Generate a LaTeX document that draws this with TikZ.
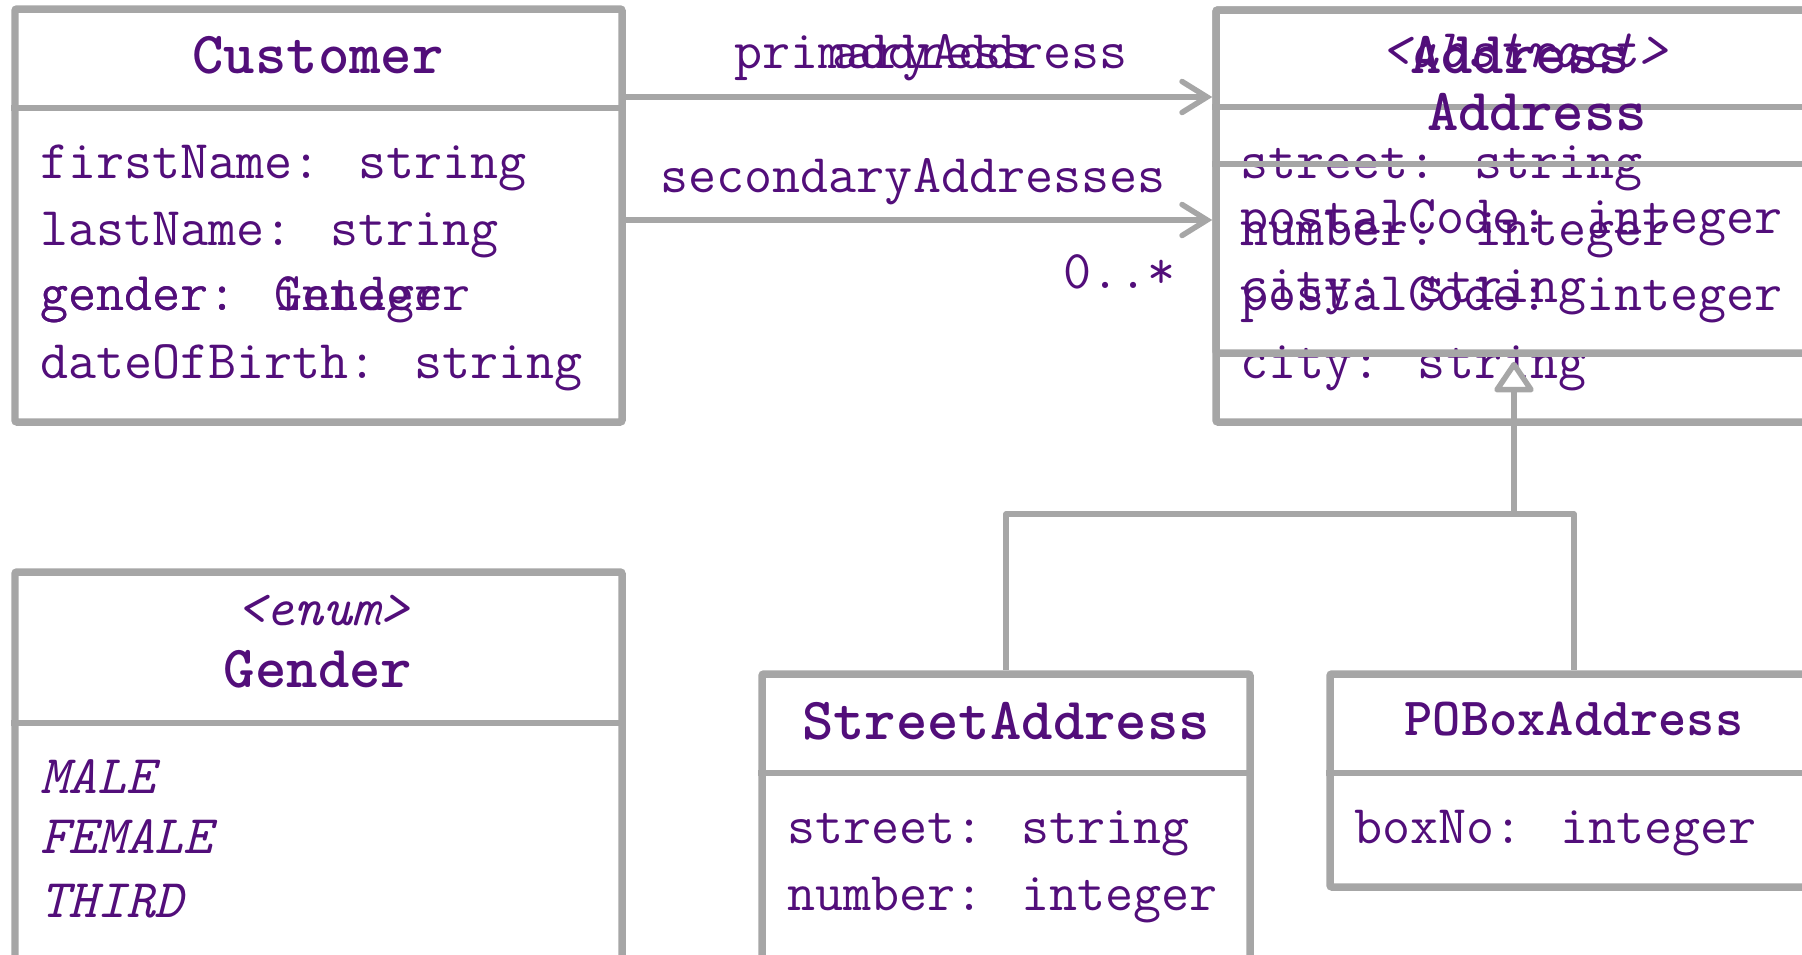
\documentclass[tikz,border=0pt]{standalone}
\usetikzlibrary{arrows.meta,fit}

\definecolor{umlpurple}{RGB}{82,14,122}
\definecolor{umlgray}{RGB}{166,166,166}

\tikzset{
  classbox/.style={draw=umlgray, line width=0.15cm, inner sep=0pt, rounded corners=0.04cm},
  divider/.style={draw=umlgray, line width=0.11cm},
  conn/.style={draw=umlgray, line width=0.11cm, line join=round},
  assoc/.style={conn, -{Straight Barb[length=0.5cm, width=0.62cm, line cap=round]}},
  inherit/.style={conn, -{Triangle[length=0.66cm, width=0.86cm, fill=white, line join=round]}},
  txt/.style={text=umlpurple, inner sep=0pt},
  attr/.style={txt, anchor=base west, font=\ttfamily\fontsize{31}{31}\selectfont},
  literal/.style={txt, anchor=base west, font=\ttfamily\itshape\fontsize{31}{31}\selectfont},
  stereo/.style={txt, anchor=base, font=\ttfamily\itshape\fontsize{31}{31}\selectfont},
  classname/.style={txt, anchor=base, font=\ttfamily\bfseries\fontsize{34}{34}\selectfont},
  rolename/.style={txt, anchor=base, font=\ttfamily\fontsize{31}{31}\selectfont},
}

\begin{document}
\begin{tikzpicture}[x=0.02cm, y=-0.02cm]
  \useasboundingbox (0,0) rectangle (1802,954);
  \clip (0,0) rectangle (1802,954);

  % Customer
  \node[classbox, fit={(15,9) (622,422)}] (customer) {};
  \draw[divider] (customer.west |- 0,108) -- (customer.east |- 0,108);
  \node[classname] (customer-name) at (318,73) {Customer};
  \node[attr] (customer-first) at (40,178) {firstName: string};
  \node[attr] (customer-last) at (40,245) {lastName: string};
  \node[attr] (customer-gender) at (40,310) {gender: Gender};
  \node[attr] (customer-genderint) at (40,310) {gender: integer};
  \node[attr] (customer-birth) at (40,378) {dateOfBirth: string};

  % Address, drawn twice
  \node[classbox, fit={(1216,10) (1824,422)}] (address) {};
  \draw[divider] (address.west |- 0,107) -- (address.east |- 0,107);
  \node[classname] (address-name) at (1520,73) {Address};
  \node[attr] (address-street) at (1240,178) {street: string};
  \node[attr] (address-number) at (1240,245) {number: integer};
  \node[attr] (address-postal) at (1240,310) {postalCode: integer};
  \node[attr] (address-city) at (1240,378) {city: string};

  \node[classbox, fit={(1216,10) (1858,353)}] (abstract) {};
  \draw[divider] (abstract.west |- 0,164) -- (abstract.east |- 0,164);
  \node[stereo] (abstract-stereo) at (1524,67) {<abstract>};
  \node[classname] (abstract-name) at (1537,130) {Address};
  \node[attr] (abstract-postal) at (1240,233) {postalCode: integer};
  \node[attr] (abstract-city) at (1240,302) {city: string};

  % Gender
  \node[classbox, fit={(15,572) (622,1000)}] (gender) {};
  \draw[divider] (gender.west |- 0,723) -- (gender.east |- 0,723);
  \node[stereo] (gender-stereo) at (323,625) {<enum>};
  \node[classname] (gender-name) at (318,687) {Gender};
  \node[literal] (gender-male) at (40,793) {MALE};
  \node[literal] (gender-female) at (40,853) {FEMALE};
  \node[literal] (gender-third) at (40,917) {THIRD};

  % StreetAddress
  \node[classbox, fit={(762,674) (1250,1000)}] (street) {};
  \draw[divider] (street.west |- 0,773) -- (street.east |- 0,773);
  \node[classname] (street-name) at (1006,739) {StreetAddress};
  \node[attr] (street-street) at (787,843) {street: string};
  \node[attr] (street-number) at (787,910) {number: integer};

  % POBoxAddress
  \node[classbox, fit={(1330,674) (1818,887)}] (pobox) {};
  \draw[divider] (pobox.west |- 0,773) -- (pobox.east |- 0,773);
  \node[classname, font=\ttfamily\bfseries\fontsize{30.6}{30.6}\selectfont] (pobox-name) at (1574,735) {POBoxAddress};
  \node[attr] (pobox-box) at (1354,843) {boxNo: integer};

  % associations
  \draw[assoc] (customer.east |- 0,97) -- (address.west |- 0,97);
  \draw[assoc] (customer.east |- 0,220) -- (address.west |- 0,220);
  \node[rolename] (primary) at (931,68) {primaryAddress};
  \node[rolename] (primary-alt) at (931,68) {address};
  \node[rolename] (secondary) at (913,192) {secondaryAddresses};
  \node[txt, anchor=base east, font=\ttfamily\fontsize{31}{31}\selectfont] (multiplicity) at (1176,288) {0..*};

  % generalization
  \coordinate (gen) at (1514,514);
  \draw[conn] (street.north) |- (gen) -| (pobox.north);
  \draw[inherit, shorten >=0.1cm] (gen) -- (gen |- abstract.south);
\end{tikzpicture}
\end{document}
